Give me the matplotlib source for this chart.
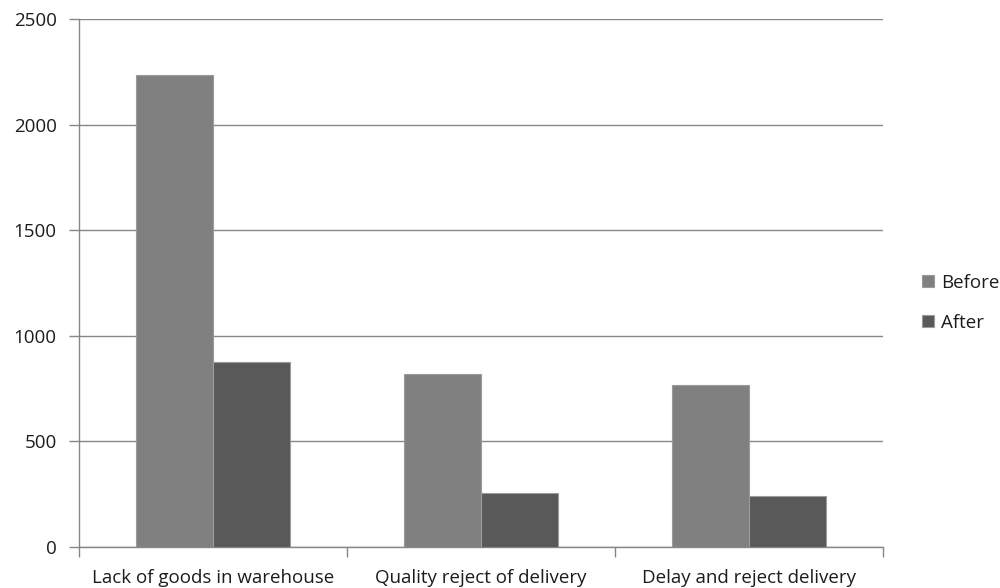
import matplotlib.pyplot as plt
import numpy as np

# Data for the chart
categories = ['Lack of goods in warehouse', 'Quality reject of delivery', 'Delay and reject delivery']
before = [2237, 819, 768]
after = [878, 258, 242]
yticks = [0, 500, 1000, 1500, 2000, 2500]

plt.rcParams['font.family'] = ['Open Sans', 'DejaVu Sans']
txt = '#1c1c1c'
fs = 13.5

fig = plt.figure(figsize=(10, 5.88), dpi=100)
ax = fig.add_axes([0.079, 0.0697, 0.804, 0.898])

x = np.arange(len(categories))
w = 1 / 3.5  # gap width 150%

ax.bar(x - w / 2, before, w, color='#808080', edgecolor='#9a9a9a', linewidth=0.8, label='Before', zorder=3)
ax.bar(x + w / 2, after, w, color='#595959', edgecolor='#9a9a9a', linewidth=0.8, label='After', zorder=3)

ax.set_xlim(-0.5, len(categories) - 0.5)
ax.set_ylim(0, 2500)
ax.set_yticks(yticks)
ax.set_yticklabels([str(v) for v in yticks], fontsize=fs, color=txt)
ax.yaxis.grid(True, color='#878787', linewidth=1, zorder=0)

# category ticks sit between groups, labels centred under them
ax.set_xticks(np.arange(-0.5, len(categories), 1.0))
ax.set_xticklabels([])
ax.set_xticks(x, minor=True)
ax.set_xticklabels(categories, minor=True, fontsize=fs, color=txt)
ax.tick_params(axis='x', which='major', length=7, color='#878787', width=1)
ax.tick_params(axis='x', which='minor', length=0, pad=16)
ax.tick_params(axis='y', length=7, color='#878787', width=1, pad=9)

for s in ['top', 'right']:
    ax.spines[s].set_visible(False)
for s in ['left', 'bottom']:
    ax.spines[s].set_color('#878787')
    ax.spines[s].set_linewidth(1)

ax.legend(loc='center left', bbox_to_anchor=(0.913, 0.485), bbox_transform=fig.transFigure,
          frameon=False, handlelength=0.6, handleheight=0.6, handletextpad=0.4,
          labelspacing=1.15, fontsize=fs, labelcolor=txt, borderpad=0)

fig.savefig('out.png', dpi=100)
